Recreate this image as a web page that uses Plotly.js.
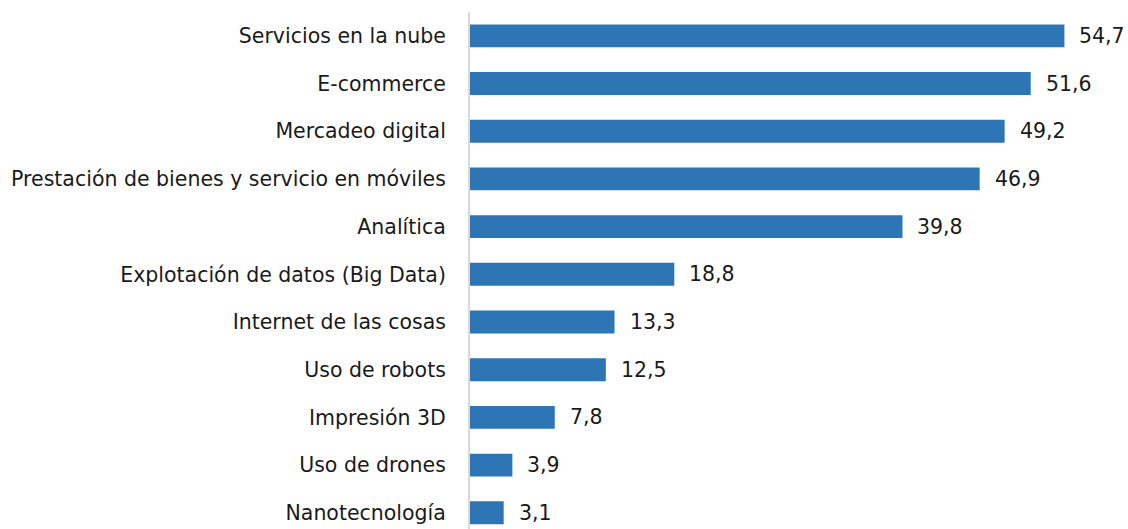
<!DOCTYPE html>
<html>
<head>
<meta charset="utf-8">
<script src="https://cdn.plot.ly/plotly-3.0.1.min.js"></script>
<style>html,body{margin:0;padding:0;background:#fff;}#chart{width:1128px;height:529px;}</style>
</head>
<body>
<div id="chart"></div>
<script>
const categories = [
  "Servicios en la nube",
  "E-commerce",
  "Mercadeo digital",
  "Prestación de bienes y servicio en móviles",
  "Analítica",
  "Explotación de datos (Big Data)",
  "Internet de las cosas",
  "Uso de robots",
  "Impresión 3D",
  "Uso de drones",
  "Nanotecnología"
];
const values = [54.7, 51.6, 49.2, 46.9, 39.8, 18.8, 13.3, 12.5, 7.8, 3.9, 3.1];

const cats = categories.slice().reverse();
const vals = values.slice().reverse();
const fmt = v => v.toFixed(1).replace('.', ',');
const FONT = '"DejaVu Sans", sans-serif';

const trace = {
  type: 'bar',
  orientation: 'h',
  y: cats,
  x: vals,
  marker: {color: '#2E75B6'},
  hoverinfo: 'none'
};

const annotations = vals.map((v, i) => ({
  x: v, y: cats[i], xref: 'x', yref: 'y',
  text: fmt(v), showarrow: false,
  xanchor: 'left', xshift: 13,
  font: {family: FONT, size: 20.5, color: '#1a1a1a'}
}));

const layout = {
  width: 1128, height: 529,
  margin: {l: 470, r: 6, t: 12, b: 0},
  paper_bgcolor: '#fff', plot_bgcolor: '#fff',
  bargap: 0.52,
  showlegend: false,
  xaxis: {range: [0, 60], visible: false, fixedrange: true},
  yaxis: {
    type: 'category',
    range: [-0.34, 10.5],
    showline: true, linecolor: '#d9d9d9', linewidth: 2,
    showgrid: false, zeroline: false,
    ticks: '', ticklabelstandoff: 18,
    tickfont: {family: FONT, size: 20.5, color: '#1a1a1a'}
  },
  annotations: annotations
};

Plotly.newPlot('chart', [trace], layout, {displayModeBar: false, staticPlot: true});
</script>
</body>
</html>
